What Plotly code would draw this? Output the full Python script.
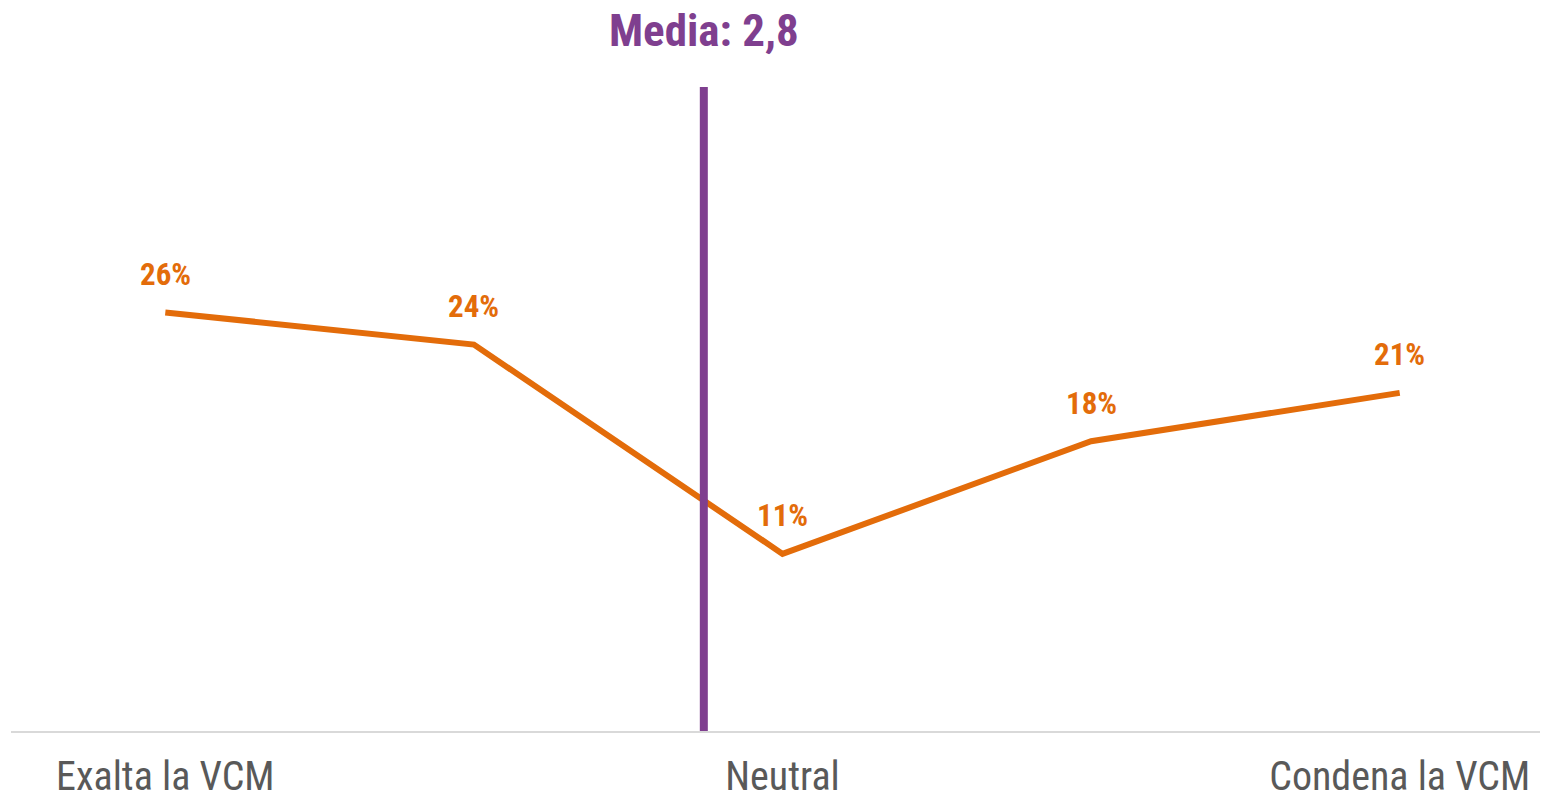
import plotly.graph_objects as go

positions = [1, 2, 3, 4, 5]
values = [26, 24, 11, 18, 21]
value_labels = ["26%", "24%", "11%", "18%", "21%"]
tick_positions = [1, 3, 5]
tick_labels = ["Exalta la VCM", "Neutral", "Condena la VCM"]
media_label = "Media: 2,8"
media_x = 2.745

FONT = "Liberation Sans Narrow, Arial Narrow, Roboto Condensed, sans-serif"
ORANGE = "#E36C0A"
PURPLE = "#7F3F8F"

fig = go.Figure()
fig.add_trace(go.Scatter(
    x=positions, y=values, mode="lines",
    line=dict(color=ORANGE, width=6),
    hoverinfo="skip", showlegend=False,
))

for xp, yv, lab in zip(positions, values, value_labels):
    fig.add_annotation(x=xp, y=yv, text=f"<b>{lab}</b>", showarrow=False,
                       yshift=38, font=dict(family=FONT, size=31, color=ORANGE))

fig.add_shape(type="line", x0=media_x, x1=media_x, y0=-0.25, y1=40.1,
              xref="x", yref="y", line=dict(color=PURPLE, width=8), layer="above")
fig.add_annotation(x=media_x, y=1.0, xref="x", yref="paper", yanchor="bottom",
                   text=f"<b>{media_label}</b>", showarrow=False, yshift=28,
                   font=dict(family=FONT, size=45, color=PURPLE))

fig.update_layout(
    width=1540, height=794,
    margin=dict(l=3, r=2, t=79, b=71),
    paper_bgcolor="white", plot_bgcolor="white",
    xaxis=dict(range=[0.5, 5.474], tickvals=tick_positions, ticktext=tick_labels,
               showgrid=False, zeroline=False, showline=True, linecolor="#D9D9D9",
               linewidth=2, ticks="", ticklabelstandoff=9, automargin=False,
               tickfont=dict(family=FONT, size=40, color="#595959")),
    yaxis=dict(range=[0, 40], visible=False, showgrid=False, zeroline=False,
               automargin=False),
)

fig.write_html("out.html")
